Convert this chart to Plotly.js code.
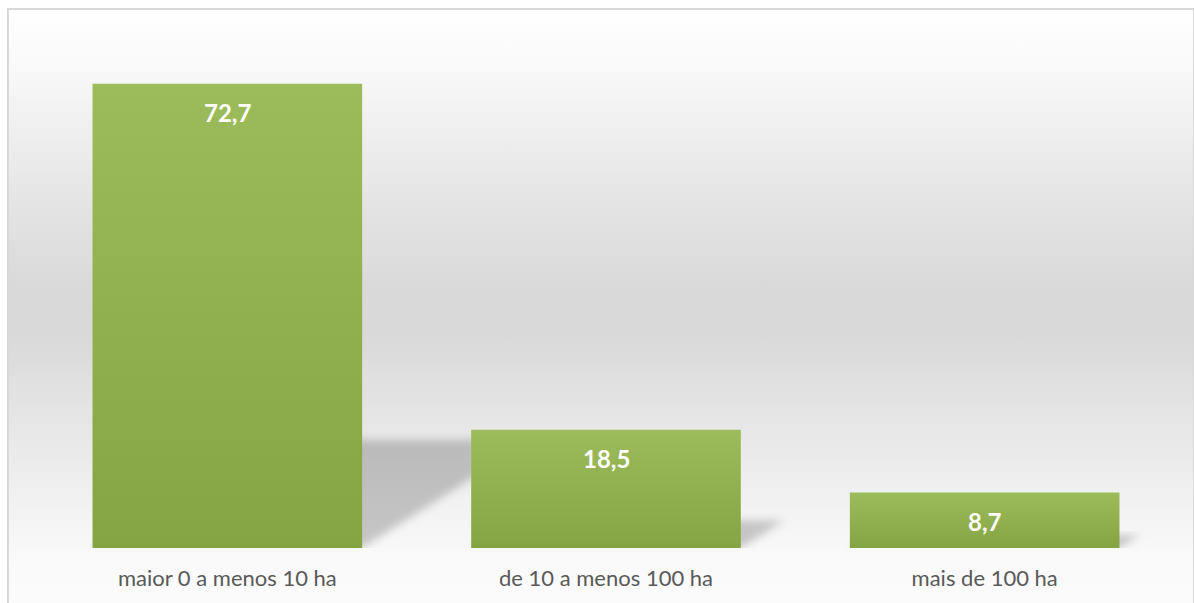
<!DOCTYPE html>
<html>
<head>
<meta charset="utf-8">
<script src="https://cdn.plot.ly/plotly-3.0.1.min.js"></script>
<style>
  html, body { margin: 0; padding: 0; background: #ffffff; }
  #frame {
    position: absolute; left: 7px; top: 8px; width: 1184px; height: 604px;
    border: 2px solid #d9d9d9;
    background: linear-gradient(to bottom, #ffffff 0%, #fafafa 8%, #f1f1f1 18%, #e4e4e4 32%, #d9d9d9 46%, #d9d9d9 54%, #e4e4e4 66%, #f0f0f0 80%, #f9f9f9 90%, #fcfcfc 100%);
  }
  #chart { position: absolute; left: 0; top: 0; width: 1194px; height: 603px; }
</style>
</head>
<body>
<div id="frame"></div>
<div id="chart"></div>
<script>
const categories = ["maior 0 a menos 10 ha", "de 10 a menos 100 ha", "mais de 100 ha"];
const values = [72.7, 18.5, 8.7];

const xpos = categories.map((c, i) => i);
const halfW = 0.356;
const fmt = v => v.toFixed(1).replace('.', ',');

const shapes = values.map((v, i) => {
  const x0 = i - halfW, x1 = i + halfW;
  const dy = 0.233 * v;
  const dx = 0.00617 * v;
  return {
    type: 'path', xref: 'x', yref: 'y', layer: 'below',
    path: `M ${x0},0 L ${x1},0 L ${x1 + dx},${dy} L ${x0 + dx},${dy} Z`,
    fillcolor: 'rgba(0,0,0,0.2)', line: { width: 0 }
  };
});

const annotations = values.map((v, i) => ({
  x: i, y: v, xref: 'x', yref: 'y', text: fmt(v), showarrow: false,
  yanchor: 'middle', yshift: -29,
  font: { family: 'Lato, sans-serif', size: 24, color: '#ffffff', weight: 'bold' }
}));

const trace = {
  type: 'bar', x: xpos, y: values,
  marker: { color: '#92b150', line: { width: 0 } },
  hoverinfo: 'none'
};

const layout = {
  width: 1194, height: 603,
  margin: { l: 38, r: 20, t: 37, b: 55 },
  paper_bgcolor: 'rgba(0,0,0,0)', plot_bgcolor: 'rgba(0,0,0,0)',
  bargap: 0.288,
  showlegend: false,
  xaxis: {
    range: [-0.5, 2.5], tickvals: xpos, ticktext: categories,
    showgrid: false, zeroline: false, showline: false, ticks: '',
    ticklabelstandoff: 15,
    tickfont: { family: 'Lato, sans-serif', size: 22, color: '#595959' }
  },
  yaxis: {
    range: [0, 80], visible: false, showgrid: false, zeroline: false
  },
  shapes: shapes,
  annotations: annotations
};

Plotly.newPlot('chart', [trace], layout, { staticPlot: true, displayModeBar: false }).then(gd => {
  const svg = gd.querySelector('.main-svg');
  const NS = 'http://www.w3.org/2000/svg';
  let defs = svg.querySelector('defs');
  if (!defs) { defs = document.createElementNS(NS, 'defs'); svg.insertBefore(defs, svg.firstChild); }
  const grad = document.createElementNS(NS, 'linearGradient');
  grad.setAttribute('id', 'barGrad');
  grad.setAttribute('x1', '0'); grad.setAttribute('y1', '0');
  grad.setAttribute('x2', '0'); grad.setAttribute('y2', '1');
  [['0', '#9cbb5a'], ['1', '#85a443']].forEach(([o, c]) => {
    const s = document.createElementNS(NS, 'stop');
    s.setAttribute('offset', o); s.setAttribute('stop-color', c);
    grad.appendChild(s);
  });
  defs.appendChild(grad);
  const filt = document.createElementNS(NS, 'filter');
  filt.setAttribute('id', 'shBlur');
  filt.setAttribute('x', '-30%'); filt.setAttribute('y', '-30%');
  filt.setAttribute('width', '160%'); filt.setAttribute('height', '160%');
  const blur = document.createElementNS(NS, 'feGaussianBlur');
  blur.setAttribute('stdDeviation', '4');
  filt.appendChild(blur);
  defs.appendChild(filt);
  gd.querySelectorAll('.bars .point path').forEach(p => { p.style.fill = 'url(#barGrad)'; });
  gd.querySelectorAll('g.shapelayer path').forEach(p => {
    p.setAttribute('filter', 'url(#shBlur)');
    p.style.filter = 'url(#shBlur)';
  });
});
</script>
</body>
</html>
